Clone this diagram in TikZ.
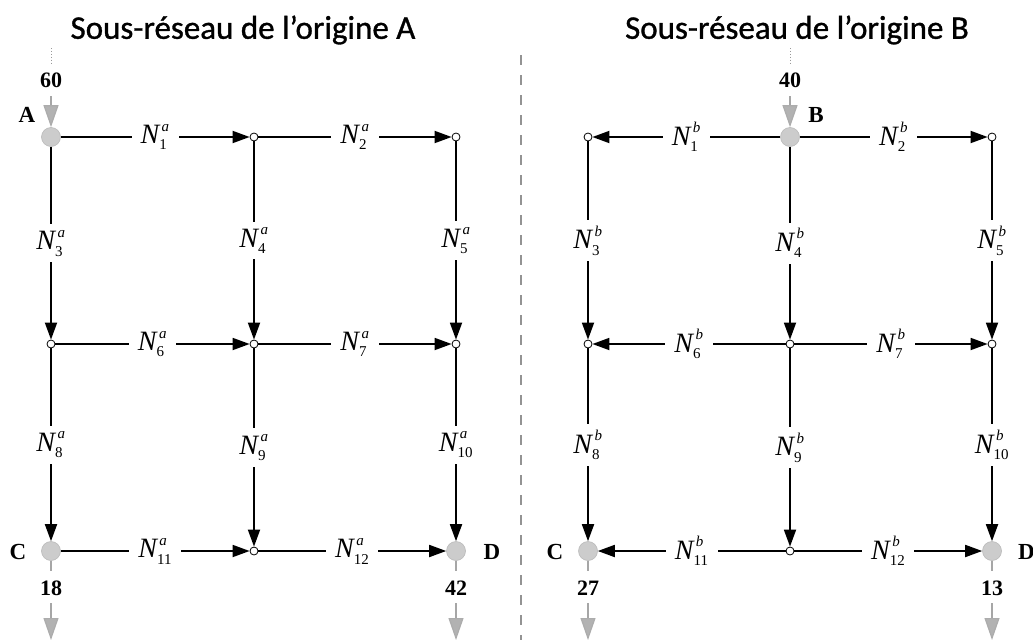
\documentclass[tikz,border=0pt]{standalone}
\usepackage{amsmath}
\usepackage{fontspec}
\setmainfont{Liberation Serif}
\newfontfamily\titlefont[FakeBold=1]{Carlito}
\usetikzlibrary{arrows.meta}
\DeclareMathSizes{28}{28}{15}{12}

% edge label N_k^s
\newcommand\flowlab[2]{$\textit{N}^{\,\textit{#1}}_{\text{#2}}$}

\begin{document}
\begin{tikzpicture}[x=1pt,y=-1pt,
  junction/.style={circle,draw=black,fill=white,inner sep=0pt,minimum size=8pt,line width=0.8pt},
  terminal/.style={circle,fill=gray!40,draw=gray!55,inner sep=0pt,minimum size=19pt,line width=0.6pt},
  flow/.style={line width=1.8pt,-{Triangle[length=17pt,width=12pt]}},
  lbl/.style={fill=white,inner xsep=9pt,inner ysep=6pt,font=\fontsize{28}{28}\selectfont},
  num/.style={font=\bfseries\fontsize{22}{22}\selectfont,inner sep=1pt},
  letter/.style={font=\bfseries\fontsize{23}{23}\selectfont,inner sep=1pt},
  title/.style={font=\titlefont\fontsize{33}{33}\selectfont},
  tick/.style={draw=gray!80,line width=0.9pt,dotted},
  stub/.style={draw=gray!70,line width=1.2pt},
  extflow/.style={draw=gray!70,line width=1.2pt,-{Triangle[length=22pt,width=15pt,fill=gray!60,color=gray!65]}},
  divider/.style={draw=gray!85,line width=1.4pt,dash pattern=on 10pt off 10pt}
]
\useasboundingbox (0,0) rectangle (1033,640);

% ---------- titles ----------
\node[title] (tA) at (243,30) {Sous-réseau de l’origine A};
\node[title] (tB) at (797,30) {Sous-réseau de l’origine B};

% ---------- divider ----------
\coordinate (dtop) at (521,55);
\coordinate (dbot) at (521,640);
\draw[divider] (dtop) -- (dbot);

% ================= origin A =================
\node[terminal] (A) at (51,137) {};
\node[junction] (a2) at (254,137) {};
\node[junction] (a3) at (456,137) {};
\node[junction] (a4) at (51,344) {};
\node[junction] (a5) at (254,344) {};
\node[junction] (a6) at (456,344) {};
\node[terminal] (aC) at (51,551) {};
\node[junction] (a8) at (254,551) {};
\node[terminal] (aD) at (456,551) {};

\draw[flow] (A) -- node[lbl]{\flowlab{a}{1}} (a2);
\draw[flow] (a2) -- node[lbl]{\flowlab{a}{2}} (a3);
\draw[flow] (A) -- node[lbl]{\flowlab{a}{3}} (a4);
\draw[flow] (a2) -- node[lbl]{\flowlab{a}{4}} (a5);
\draw[flow] (a3) -- node[lbl]{\flowlab{a}{5}} (a6);
\draw[flow] (a4) -- node[lbl]{\flowlab{a}{6}} (a5);
\draw[flow] (a5) -- node[lbl]{\flowlab{a}{7}} (a6);
\draw[flow] (a4) -- node[lbl]{\flowlab{a}{8}} (aC);
\draw[flow] (a5) -- node[lbl]{\flowlab{a}{9}} (a8);
\draw[flow] (a6) -- node[lbl]{\flowlab{a}{10}} (aD);
\draw[flow] (aC) -- node[lbl]{\flowlab{a}{11}} (a8);
\draw[flow] (a8) -- node[lbl]{\flowlab{a}{12}} (aD);

\node[letter] (lA) at (27,115) {A};
\node[letter] (lCa) at (18,552) {C};
\node[letter] (lDa) at (492,552) {D};

% supply at A
\coordinate (Atick1) at (51,48);
\coordinate (Atick2) at (51,64);
\draw[tick] (Atick1) -- (Atick2);
\node[num] (sA) at (51,80) {60};
\coordinate (Ain) at (51,96);
\draw[extflow] (Ain) -- (A);

% demand at C and D
\coordinate (aCs) at (51,571);
\draw[stub] (aC) -- (aCs);
\node[num] (dCa) at (51,588) {18};
\coordinate (aCo1) at (51,603);
\coordinate (aCo2) at (51,640);
\draw[extflow] (aCo1) -- (aCo2);

\coordinate (aDs) at (456,571);
\draw[stub] (aD) -- (aDs);
\node[num] (dDa) at (456,588) {42};
\coordinate (aDo1) at (456,603);
\coordinate (aDo2) at (456,640);
\draw[extflow] (aDo1) -- (aDo2);

% ================= origin B =================
\node[junction] (b1) at (588,137) {};
\node[terminal] (B) at (790,137) {};
\node[junction] (b3) at (992,137) {};
\node[junction] (b4) at (588,344) {};
\node[junction] (b5) at (790,344) {};
\node[junction] (b6) at (992,344) {};
\node[terminal] (bC) at (588,551) {};
\node[junction] (b8) at (790,551) {};
\node[terminal] (bD) at (992,551) {};

\draw[flow] (B) -- node[lbl]{\flowlab{b}{1}} (b1);
\draw[flow] (B) -- node[lbl]{\flowlab{b}{2}} (b3);
\draw[flow] (b1) -- node[lbl]{\flowlab{b}{3}} (b4);
\draw[flow] (B) -- node[lbl]{\flowlab{b}{4}} (b5);
\draw[flow] (b3) -- node[lbl]{\flowlab{b}{5}} (b6);
\draw[flow] (b5) -- node[lbl]{\flowlab{b}{6}} (b4);
\draw[flow] (b5) -- node[lbl]{\flowlab{b}{7}} (b6);
\draw[flow] (b4) -- node[lbl]{\flowlab{b}{8}} (bC);
\draw[flow] (b5) -- node[lbl]{\flowlab{b}{9}} (b8);
\draw[flow] (b6) -- node[lbl]{\flowlab{b}{10}} (bD);
\draw[flow] (b8) -- node[lbl]{\flowlab{b}{11}} (bC);
\draw[flow] (b8) -- node[lbl]{\flowlab{b}{12}} (bD);

\node[letter] (lB) at (816,115) {B};
\node[letter] (lCb) at (555,552) {C};
\node[letter,anchor=west] (lDb) at (1017,552) {D};

% supply at B
\coordinate (Btick1) at (790,48);
\coordinate (Btick2) at (790,64);
\draw[tick] (Btick1) -- (Btick2);
\node[num] (sB) at (790,80) {40};
\coordinate (Bin) at (790,96);
\draw[extflow] (Bin) -- (B);

% demand at C and D
\coordinate (bCs) at (588,571);
\draw[stub] (bC) -- (bCs);
\node[num] (dCb) at (588,588) {27};
\coordinate (bCo1) at (588,603);
\coordinate (bCo2) at (588,640);
\draw[extflow] (bCo1) -- (bCo2);

\coordinate (bDs) at (992,571);
\draw[stub] (bD) -- (bDs);
\node[num] (dDb) at (992,588) {13};
\coordinate (bDo1) at (992,603);
\coordinate (bDo2) at (992,640);
\draw[extflow] (bDo1) -- (bDo2);

\end{tikzpicture}
\end{document}
